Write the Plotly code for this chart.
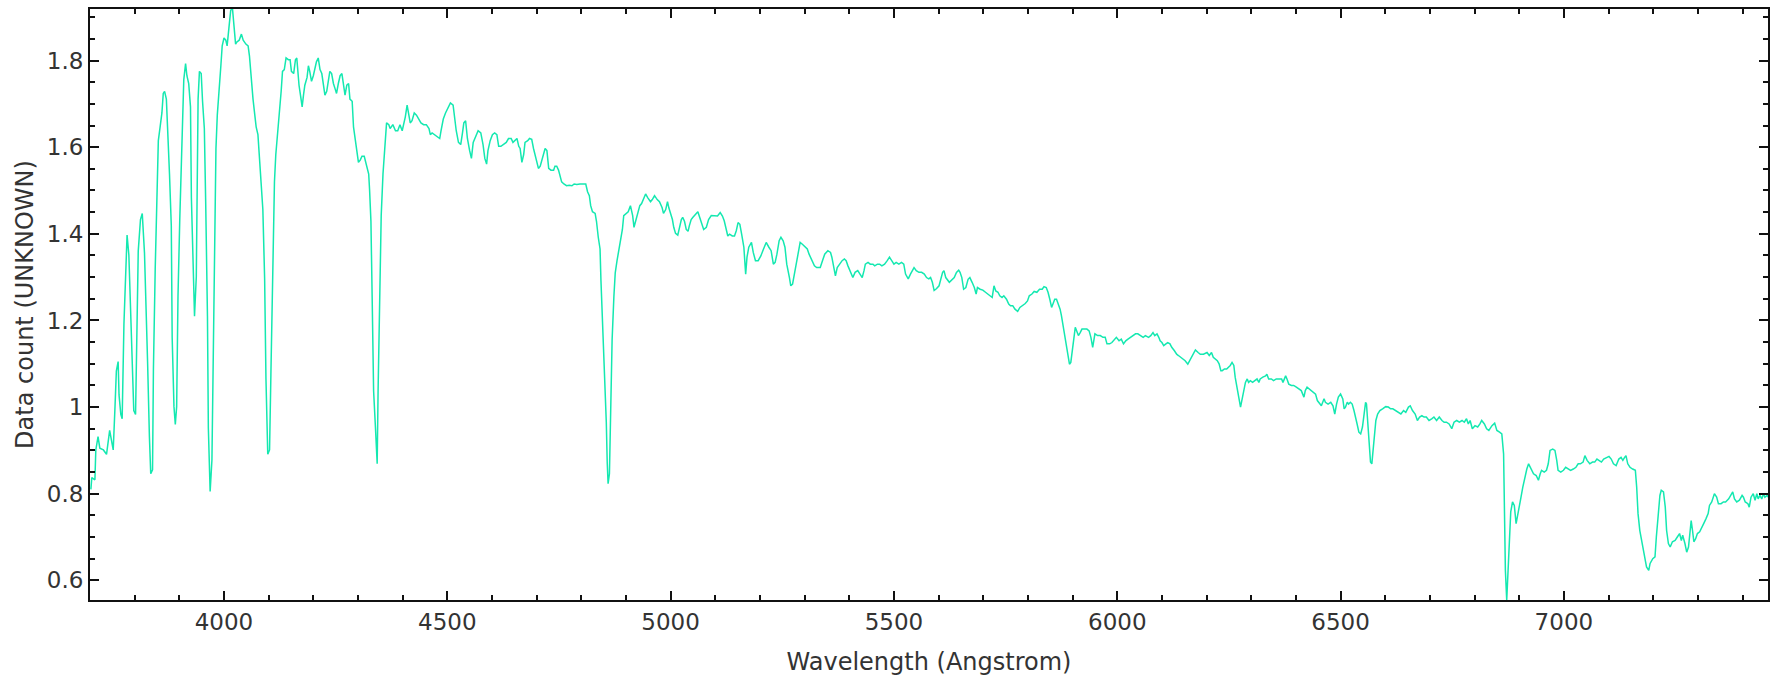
import plotly.graph_objects as go

# ---- data (wavelength in Angstrom, data count) ----
wl_a = [3702, 3704, 3711, 3713, 3718, 3722, 3730, 3737, 3744, 3752, 3756, 3759, 3763, 3765,
        3769, 3772, 3776, 3780, 3783, 3787, 3791, 3794, 3798, 3802, 3805, 3808, 3813, 3817,
        3822, 3825, 3829, 3833, 3836, 3840, 3842, 3846, 3850, 3853, 3857, 3861, 3864, 3867,
        3871, 3875, 3878, 3882, 3884, 3888, 3891, 3894, 3897, 3901, 3904, 3908, 3910, 3914,
        3917, 3921, 3925, 3927, 3931, 3934, 3938, 3940, 3942, 3945, 3949, 3952, 3956, 3959,
        3963, 3965, 3969, 3973, 3976, 3979, 3982, 3985, 3989, 3993, 3996, 4000, 4004, 4007,
        4011, 4015, 4019, 4022, 4026, 4029, 4034, 4039, 4043, 4049, 4054, 4057, 4061, 4065,
        4069, 4072, 4076, 4080, 4083, 4087, 4091, 4094, 4098, 4102, 4105, 4109, 4113, 4116,
        4120, 4124, 4128, 4131, 4135, 4139, 4144]
fx_a = [0.810, 0.837, 0.832, 0.901, 0.932, 0.905, 0.901, 0.891, 0.946, 0.901, 1.001, 1.083, 1.105, 1.028,
        0.983, 0.973, 1.192, 1.338, 1.397, 1.351, 1.210, 1.105, 0.992, 0.983, 1.165, 1.360, 1.433, 1.447,
        1.356, 1.265, 1.101, 0.932, 0.846, 0.855, 1.087, 1.319, 1.529, 1.615, 1.647, 1.679, 1.724, 1.729,
        1.711, 1.624, 1.538, 1.419, 1.160, 1.001, 0.960, 1.001, 1.256, 1.433, 1.551, 1.679, 1.756, 1.793,
        1.765, 1.747, 1.693, 1.483, 1.306, 1.210, 1.301, 1.483, 1.711, 1.775, 1.770, 1.706, 1.643, 1.474,
        1.210, 0.951, 0.805, 0.878, 1.119, 1.410, 1.597, 1.674, 1.724, 1.788, 1.834, 1.852, 1.847, 1.834,
        1.875, 1.916, 1.920, 1.888, 1.838, 1.843, 1.847, 1.861, 1.847, 1.838, 1.834, 1.811, 1.756, 1.711,
        1.674, 1.647, 1.629, 1.574, 1.520, 1.456, 1.297, 1.064, 0.891, 0.901, 1.074, 1.283, 1.520, 1.583,
        1.629, 1.665, 1.729, 1.775, 1.779, 1.806, 1.802]

wl_b = [4148, 4151, 4156, 4160, 4163, 4168, 4172, 4175, 4178, 4181, 4186, 4189, 4192, 4196,
        4200, 4204, 4207, 4211, 4215, 4219, 4222, 4226, 4230, 4234, 4237, 4241, 4245, 4249,
        4252, 4256, 4260, 4264, 4267, 4271, 4275, 4279, 4282, 4287, 4290, 4294, 4297, 4301,
        4305, 4309, 4314, 4318, 4324, 4326, 4329, 4332, 4335, 4339, 4343, 4345, 4349, 4352,
        4356, 4360, 4364, 4369, 4372, 4378, 4384, 4389, 4394, 4399, 4402, 4406, 4410, 4414,
        4417, 4421, 4426, 4431, 4436, 4441, 4447, 4453, 4459, 4462, 4466, 4471, 4477, 4483,
        4486, 4491, 4496, 4501, 4507, 4513, 4516, 4520, 4525, 4530, 4534, 4537, 4541, 4545,
        4550, 4554, 4558, 4564, 4569, 4575, 4580, 4584, 4588, 4591, 4596, 4601, 4606, 4611,
        4615]
fx_b = [1.802, 1.775, 1.770, 1.802, 1.806, 1.743, 1.715, 1.693, 1.720, 1.743, 1.761, 1.788, 1.775, 1.752,
        1.765, 1.788, 1.797, 1.806, 1.779, 1.770, 1.743, 1.720, 1.729, 1.761, 1.775, 1.770, 1.747, 1.734,
        1.724, 1.747, 1.765, 1.770, 1.743, 1.720, 1.743, 1.747, 1.711, 1.706, 1.647, 1.620, 1.592, 1.565,
        1.570, 1.579, 1.579, 1.565, 1.538, 1.501, 1.429, 1.237, 1.037, 0.955, 0.869, 1.037, 1.256, 1.442,
        1.538, 1.606, 1.656, 1.652, 1.643, 1.652, 1.638, 1.638, 1.652, 1.638, 1.652, 1.670, 1.697, 1.674,
        1.656, 1.661, 1.679, 1.674, 1.665, 1.656, 1.652, 1.652, 1.643, 1.629, 1.633, 1.629, 1.624, 1.620,
        1.638, 1.665, 1.679, 1.688, 1.702, 1.697, 1.665, 1.638, 1.611, 1.606, 1.633, 1.656, 1.661, 1.620,
        1.592, 1.574, 1.611, 1.624, 1.638, 1.633, 1.606, 1.574, 1.561, 1.592, 1.615, 1.629, 1.633, 1.629,
        1.602]

wl_c = [4620, 4626, 4632, 4637, 4643, 4647, 4652, 4656, 4660, 4663, 4667, 4671, 4674, 4680,
        4684, 4689, 4693, 4699, 4704, 4708, 4714, 4719, 4723, 4727, 4732, 4738, 4741, 4745,
        4749, 4753, 4756, 4761, 4767, 4773, 4779, 4784, 4790, 4797, 4805, 4810, 4814, 4818,
        4821, 4825, 4831, 4834, 4838, 4842, 4844, 4847, 4850, 4853, 4856, 4858, 4860, 4863,
        4866, 4869, 4873, 4876, 4880, 4884, 4888, 4892, 4895, 4900, 4905, 4910, 4915, 4918,
        4922, 4926, 4931, 4935, 4940, 4944, 4949, 4955, 4959, 4964, 4970, 4975, 4981, 4984,
        4989, 4993, 4996, 5000, 5004, 5007, 5011, 5016, 5020, 5024, 5027, 5031, 5035, 5039,
        5042, 5046, 5050, 5057, 5061, 5065, 5070, 5074, 5080, 5085]
fx_c = [1.602, 1.606, 1.611, 1.620, 1.620, 1.611, 1.615, 1.620, 1.602, 1.597, 1.565, 1.583, 1.611, 1.615,
        1.620, 1.618, 1.597, 1.574, 1.551, 1.556, 1.579, 1.597, 1.592, 1.551, 1.547, 1.547, 1.556, 1.556,
        1.547, 1.533, 1.520, 1.515, 1.511, 1.512, 1.511, 1.515, 1.514, 1.515, 1.515, 1.515, 1.497, 1.488,
        1.465, 1.451, 1.447, 1.429, 1.392, 1.365, 1.292, 1.210, 1.137, 1.064, 0.964, 0.873, 0.823, 0.846,
        0.996, 1.155, 1.256, 1.310, 1.338, 1.365, 1.392, 1.410, 1.442, 1.447, 1.451, 1.465, 1.442, 1.415,
        1.429, 1.442, 1.465, 1.470, 1.483, 1.492, 1.483, 1.474, 1.479, 1.488, 1.479, 1.474, 1.460, 1.447,
        1.456, 1.474, 1.460, 1.447, 1.433, 1.415, 1.401, 1.397, 1.415, 1.433, 1.438, 1.429, 1.410, 1.406,
        1.419, 1.433, 1.438, 1.447, 1.451, 1.438, 1.419, 1.410, 1.415, 1.433]

wl_d = [5091, 5098, 5105, 5111, 5116, 5120, 5125, 5128, 5132, 5138, 5143, 5147, 5151, 5155,
        5159, 5164, 5168, 5171, 5175, 5181, 5185, 5190, 5196, 5202, 5208, 5214, 5220, 5225,
        5230, 5234, 5238, 5243, 5247, 5252, 5256, 5260, 5266, 5269, 5273, 5277, 5281, 5286,
        5290, 5295, 5301, 5306, 5310, 5316, 5322, 5327, 5335, 5340, 5345, 5352, 5358, 5361,
        5365, 5369, 5373, 5378, 5384, 5389, 5393, 5397, 5403, 5408, 5413, 5419, 5424, 5429,
        5433, 5436, 5442, 5447, 5453, 5457, 5463, 5468, 5473, 5479, 5485, 5490, 5495, 5500,
        5505, 5511, 5517, 5522, 5526, 5532, 5537, 5541, 5545, 5550, 5556, 5562, 5568, 5573,
        5578, 5582, 5586, 5590, 5595, 5601, 5605, 5609, 5612, 5616]
fx_d = [1.442, 1.441, 1.441, 1.449, 1.441, 1.430, 1.411, 1.395, 1.399, 1.395, 1.395, 1.407, 1.426, 1.422,
        1.399, 1.369, 1.307, 1.346, 1.369, 1.380, 1.357, 1.338, 1.338, 1.349, 1.365, 1.380, 1.369, 1.361,
        1.330, 1.334, 1.353, 1.384, 1.392, 1.384, 1.369, 1.330, 1.299, 1.280, 1.284, 1.307, 1.338, 1.361,
        1.380, 1.376, 1.369, 1.365, 1.353, 1.338, 1.326, 1.322, 1.322, 1.338, 1.353, 1.361, 1.357, 1.346,
        1.322, 1.303, 1.322, 1.330, 1.338, 1.342, 1.338, 1.326, 1.311, 1.299, 1.311, 1.315, 1.307, 1.299,
        1.315, 1.330, 1.334, 1.330, 1.330, 1.326, 1.330, 1.330, 1.326, 1.330, 1.338, 1.346, 1.338, 1.330,
        1.334, 1.330, 1.334, 1.330, 1.307, 1.296, 1.307, 1.315, 1.322, 1.315, 1.311, 1.311, 1.307, 1.299,
        1.296, 1.299, 1.288, 1.269, 1.273, 1.280, 1.299, 1.311, 1.315, 1.299]

wl_e = [5624, 5630, 5635, 5640, 5645, 5648, 5652, 5656, 5661, 5666, 5670, 5675, 5680, 5684,
        5687, 5693, 5699, 5705, 5710, 5716, 5720, 5724, 5728, 5733, 5737, 5742, 5746, 5752,
        5757, 5761, 5766, 5771, 5777, 5782, 5788, 5794, 5799, 5803, 5809, 5814, 5820, 5826,
        5832, 5836, 5841, 5845, 5849, 5853, 5856, 5860, 5864, 5868, 5872, 5875, 5879, 5883,
        5887, 5891, 5893, 5896, 5899, 5902, 5906, 5909, 5913, 5917, 5921, 5926, 5932, 5937,
        5941, 5945, 5948, 5950, 5956, 5962, 5968, 5973, 5977, 5983, 5988, 5994, 5998, 6004,
        6009, 6014, 6019, 6024, 6030, 6036, 6041, 6046, 6052, 6058, 6063, 6070, 6075, 6080,
        6084, 6089, 6093, 6096, 6100, 6104, 6109, 6113, 6118, 6122, 6128, 6133, 6137, 6143,
        6148, 6152, 6158]
fx_e = [1.288, 1.295, 1.299, 1.311, 1.316, 1.311, 1.299, 1.272, 1.276, 1.295, 1.299, 1.288, 1.276, 1.261,
        1.276, 1.272, 1.270, 1.265, 1.261, 1.257, 1.253, 1.280, 1.268, 1.265, 1.257, 1.253, 1.257, 1.249,
        1.238, 1.234, 1.234, 1.226, 1.221, 1.230, 1.234, 1.239, 1.245, 1.257, 1.261, 1.267, 1.265, 1.272,
        1.272, 1.278, 1.276, 1.265, 1.249, 1.230, 1.238, 1.249, 1.249, 1.238, 1.226, 1.211, 1.188, 1.161,
        1.138, 1.115, 1.099, 1.103, 1.130, 1.161, 1.184, 1.176, 1.165, 1.172, 1.180, 1.180, 1.180, 1.176,
        1.161, 1.138, 1.161, 1.169, 1.165, 1.165, 1.161, 1.161, 1.146, 1.146, 1.149, 1.155, 1.161, 1.153,
        1.157, 1.146, 1.153, 1.157, 1.161, 1.165, 1.169, 1.169, 1.165, 1.161, 1.165, 1.161, 1.165, 1.172,
        1.165, 1.169, 1.161, 1.153, 1.149, 1.142, 1.146, 1.149, 1.146, 1.138, 1.130, 1.122, 1.119, 1.115,
        1.111, 1.107, 1.099]

wl_f = [6166, 6171, 6175, 6181, 6186, 6193, 6201, 6206, 6211, 6215, 6219, 6224, 6228, 6232,
        6235, 6240, 6245, 6250, 6253, 6257, 6261, 6264, 6268, 6272, 6276, 6279, 6283, 6287,
        6291, 6294, 6298, 6303, 6308, 6313, 6317, 6320, 6326, 6332, 6335, 6339, 6345, 6350,
        6356, 6362, 6368, 6371, 6377, 6380, 6384, 6390, 6395, 6401, 6406, 6412, 6418, 6421,
        6425, 6430, 6435, 6440, 6444, 6448, 6453, 6457, 6463, 6466, 6472, 6478, 6483, 6487,
        6491, 6495, 6500, 6505, 6508, 6511, 6515, 6518, 6522, 6526, 6530, 6534, 6537, 6541,
        6545, 6549, 6552, 6556, 6558, 6561, 6564, 6567, 6570, 6573, 6576, 6579, 6583, 6588,
        6594, 6601, 6607, 6612, 6617, 6623, 6629, 6635, 6641, 6646, 6652, 6656, 6661, 6667,
        6672, 6677, 6682, 6687, 6692, 6698, 6704, 6709, 6715, 6721, 6727, 6732, 6737, 6743,
        6749, 6754, 6760, 6766, 6772, 6777, 6782, 6786, 6790, 6795, 6801, 6807, 6812, 6816]
fx_f = [1.115, 1.126, 1.132, 1.126, 1.122, 1.122, 1.126, 1.119, 1.126, 1.115, 1.111, 1.107, 1.100, 1.084,
        1.084, 1.088, 1.088, 1.092, 1.096, 1.103, 1.096, 1.069, 1.050, 1.023, 1.000, 1.015, 1.038, 1.057,
        1.065, 1.057, 1.061, 1.057, 1.061, 1.065, 1.057, 1.065, 1.069, 1.072, 1.076, 1.065, 1.065, 1.061,
        1.065, 1.065, 1.065, 1.057, 1.072, 1.065, 1.053, 1.050, 1.050, 1.046, 1.042, 1.038, 1.023, 1.038,
        1.046, 1.042, 1.038, 1.034, 1.030, 1.015, 1.007, 1.003, 1.019, 1.011, 1.007, 1.011, 1.003, 0.984,
        1.007, 1.023, 1.030, 1.019, 0.996, 1.000, 1.011, 1.007, 1.011, 1.007, 0.992, 0.977, 0.961, 0.942,
        0.938, 0.954, 0.984, 1.011, 1.007, 0.961, 0.915, 0.873, 0.869, 0.907, 0.946, 0.969, 0.984, 0.992,
        0.996, 1.001, 1.000, 0.996, 0.996, 0.992, 0.988, 0.984, 0.992, 0.988, 1.000, 1.003, 0.992, 0.984,
        0.969, 0.977, 0.980, 0.977, 0.977, 0.969, 0.973, 0.977, 0.969, 0.977, 0.969, 0.965, 0.965, 0.961,
        0.950, 0.965, 0.969, 0.965, 0.969, 0.965, 0.973, 0.961, 0.969, 0.950, 0.957, 0.954, 0.961, 0.969]

wl_g = [6822, 6827, 6832, 6839, 6845, 6850, 6856, 6861, 6865, 6866, 6869, 6872, 6875, 6878,
        6881, 6885, 6889, 6893, 6896, 6901, 6904, 6908, 6912, 6917, 6921, 6926, 6932, 6938,
        6943, 6947, 6950, 6956, 6961, 6965, 6969, 6975, 6980, 6984, 6987, 6993, 6999, 7004,
        7010, 7015, 7021, 7027, 7032, 7037, 7043, 7047, 7052, 7058, 7064, 7069, 7074, 7079,
        7084, 7089, 7095, 7101, 7106, 7111, 7117, 7123, 7128, 7132, 7136, 7139, 7143, 7148,
        7154, 7160, 7163, 7166, 7170, 7175, 7180, 7185, 7190, 7193, 7199, 7204, 7207, 7211,
        7215, 7218, 7223, 7227, 7230, 7234, 7238, 7243, 7249, 7254, 7259, 7263, 7266, 7271,
        7275, 7279, 7282, 7285, 7288, 7291, 7295, 7299, 7304, 7308, 7313, 7318, 7323, 7326,
        7331, 7337, 7342, 7346, 7352, 7357, 7362, 7369, 7375, 7378, 7382, 7387, 7393, 7399,
        7402, 7406, 7412, 7415, 7419, 7424, 7428, 7432, 7435, 7439, 7443, 7447, 7450, 7455,
        7458]
fx_g = [0.961, 0.950, 0.946, 0.957, 0.963, 0.946, 0.942, 0.938, 0.892, 0.785, 0.623, 0.554, 0.631, 0.700,
        0.758, 0.781, 0.773, 0.731, 0.746, 0.769, 0.792, 0.815, 0.838, 0.857, 0.869, 0.857, 0.846, 0.842,
        0.831, 0.846, 0.854, 0.850, 0.854, 0.869, 0.900, 0.903, 0.900, 0.877, 0.854, 0.850, 0.854, 0.861,
        0.857, 0.854, 0.857, 0.861, 0.869, 0.869, 0.873, 0.888, 0.877, 0.869, 0.873, 0.873, 0.880, 0.877,
        0.873, 0.880, 0.884, 0.886, 0.880, 0.869, 0.865, 0.880, 0.884, 0.877, 0.884, 0.888, 0.869, 0.861,
        0.857, 0.854, 0.815, 0.754, 0.715, 0.685, 0.662, 0.631, 0.623, 0.639, 0.650, 0.654, 0.700, 0.754,
        0.796, 0.808, 0.804, 0.769, 0.715, 0.685, 0.677, 0.689, 0.692, 0.700, 0.708, 0.692, 0.704, 0.685,
        0.665, 0.677, 0.715, 0.738, 0.715, 0.689, 0.696, 0.708, 0.712, 0.719, 0.731, 0.742, 0.754, 0.773,
        0.781, 0.800, 0.792, 0.777, 0.777, 0.781, 0.781, 0.788, 0.800, 0.804, 0.788, 0.781, 0.785, 0.796,
        0.792, 0.781, 0.777, 0.769, 0.792, 0.800, 0.785, 0.800, 0.788, 0.796, 0.788, 0.800, 0.792, 0.796,
        0.792]

wavelength = wl_a + wl_b + wl_c + wl_d + wl_e + wl_f + wl_g
flux = fx_a + fx_b + fx_c + fx_d + fx_e + fx_f + fx_g

x_title = "Wavelength (Angstrom)"
y_title = "Data count (UNKNOWN)"

fig = go.Figure()
fig.add_trace(go.Scatter(
    x=wavelength, y=flux, mode="lines",
    line=dict(color="#14e8b0", width=1.5),
    hoverinfo="x+y", showlegend=False,
))

font_main = "DejaVu Sans, Verdana, sans-serif"
axis_common = dict(
    showline=True, linecolor="#111111", linewidth=2, mirror="ticks",
    ticks="inside", tickcolor="#111111", tickwidth=1.5,
    showgrid=False, zeroline=False,
    tickfont=dict(family=font_main, size=23, color="#333333"),
    title_font=dict(family=font_main, size=24, color="#333333"),
)

fig.update_layout(
    width=1777, height=681,
    margin=dict(l=90, r=8, t=7, b=81),
    paper_bgcolor="white", plot_bgcolor="white",
    xaxis=dict(
        range=[3700, 7457], tick0=4000, dtick=500, ticklen=9,
        minor=dict(dtick=100, ticks="inside", ticklen=5, tickcolor="#111111", tickwidth=1.5),
        title=dict(text=x_title, standoff=20),
        **axis_common,
    ),
    yaxis=dict(
        range=[0.5546, 1.919], tick0=0.6, dtick=0.2, ticklen=9,
        minor=dict(dtick=0.05, ticks="inside", ticklen=5, tickcolor="#111111", tickwidth=1.5),
        title=dict(text=y_title, standoff=6),
        **axis_common,
    ),
)

fig.write_html("out.html")
